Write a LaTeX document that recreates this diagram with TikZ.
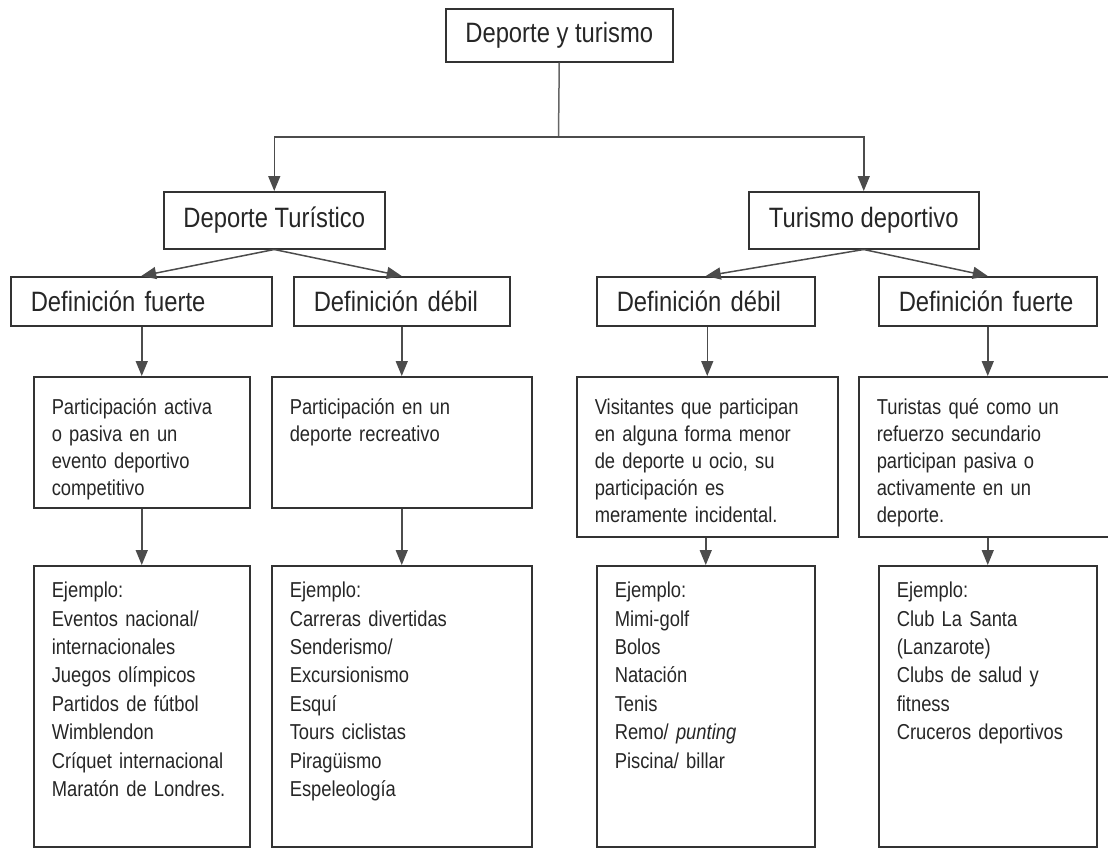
\documentclass[tikz,border=0pt]{standalone}
\usepackage{fontspec}
\setmainfont{Liberation Sans}[FakeStretch=0.85]
\usetikzlibrary{arrows.meta}

\begin{document}
\begin{tikzpicture}[x=0.5pt, y=-0.5pt,
			every node/.style={draw=black!80, line width=0.75pt, text=black!85, anchor=north west, inner sep=0pt},
			headbox/.style={minimum width=#1, minimum height=28.5pt, font=\fontsize{14}{16}\selectfont},
			defbox/.style={text width=#1, align=left, inner xsep=10pt, minimum height=24.5pt, font=\fontsize{14}{16}\selectfont},
			infobox/.style 2 args={text width=#1, align=left, inner xsep=9pt, inner ysep=11pt, text height=8pt, text depth=#2, font=\fontsize{10.8}{13.5}\selectfont},
			examplebox/.style={text width=#1, align=left, inner xsep=9pt, inner ysep=8pt, text height=8pt, text depth=116.5pt, font=\fontsize{10.8}{14.2}\selectfont},
			arr/.style={draw=black!70, line width=0.75pt, -{Triangle[length=7.5pt, width=6pt]}}
			]
			
			\useasboundingbox (0,0) rectangle (1108,848);
			
			% Nodes
			\node[headbox=113.5pt, minimum height=26.5pt] (top) at (445,8) {Deporte y turismo};
			
			\node[headbox=110.5pt] (dt) at (163,191) {Deporte Turístico};
			\node[headbox=115pt] (td) at (748,191) {Turismo deportivo};
			
			\node[defbox=110.5pt] (a1) at (10,276) {Definición fuerte};
			\node[defbox=88pt] (a2) at (293,276) {Definición débil};
			\node[defbox=89pt] (b1) at (596,276) {Definición débil};
			\node[defbox=89pt] (b2) at (878,276) {Definición fuerte};
			
			\node[infobox={90pt}{35.5pt}] (c1) at (33,376) {Participación activa\\o pasiva en un\\evento deportivo\\competitivo};
			\node[infobox={112pt}{35.5pt}] (c2) at (271,376) {Participación en un\\deporte recreativo};
			\node[infobox={112.5pt}{50pt}] (c3) at (576,376) {Visitantes que participan\\en alguna forma menor\\de deporte u ocio, su\\participación es\\meramente incidental.};
			\node[infobox={111pt}{50pt}] (c4) at (858,376) {Turistas qué como un\\refuerzo secundario\\participan pasiva o\\activamente en un\\deporte.};
			
			\node[examplebox=90pt] (d1) at (33,565) {Ejemplo:\\Eventos nacional/\\internacionales\\Juegos olímpicos\\Partidos de fútbol\\Wimblendon\\Críquet internacional\\Maratón de Londres.};
			\node[examplebox=112pt] (d2) at (271,565) {Ejemplo:\\Carreras divertidas\\Senderismo/\\Excursionismo\\Esquí\\Tours ciclistas\\Piragüismo\\Espeleología};
			\node[examplebox=91pt] (d3) at (596,565) {Ejemplo:\\Mimi-golf\\Bolos\\Natación\\Tenis\\Remo/ \textit{punting}\\Piscina/ billar};
			\node[examplebox=91pt] (d4) at (878,565) {Ejemplo:\\Club La Santa\\(Lanzarote)\\Clubs de salud y\\fitness\\Cruceros deportivos};
			
			% Edges
			\coordinate (split) at (558.5,137);
			\draw[draw=black!60, line width=0.75pt] (top.south) -- (split);
			\draw[arr] (split) -| (dt.north);
			\draw[arr] (split) -| (td.north);
			
			\draw[arr] (dt.south) -- (a1.north);
			\draw[arr] (dt.south) -- (a2.north);
			\draw[arr] (td.south) -- (b1.north);
			\draw[arr] (td.south) -- (b2.north);
			
			\draw[arr] (c1.north |- a1.south) -- (c1.north);
			\draw[arr] (c2.north |- a2.south) -- (c2.north);
			\draw[arr] (c3.north |- b1.south) -- (c3.north);
			\draw[arr] (c4.north |- b2.south) -- (c4.north);
			
			\draw[arr] (d1.north |- c1.south) -- (d1.north);
			\draw[arr] (d2.north |- c2.south) -- (d2.north);
			\draw[arr] (d3.north |- c3.south) -- (d3.north);
			\draw[arr] (d4.north |- c4.south) -- (d4.north);
			
		\end{tikzpicture}
\end{document}
